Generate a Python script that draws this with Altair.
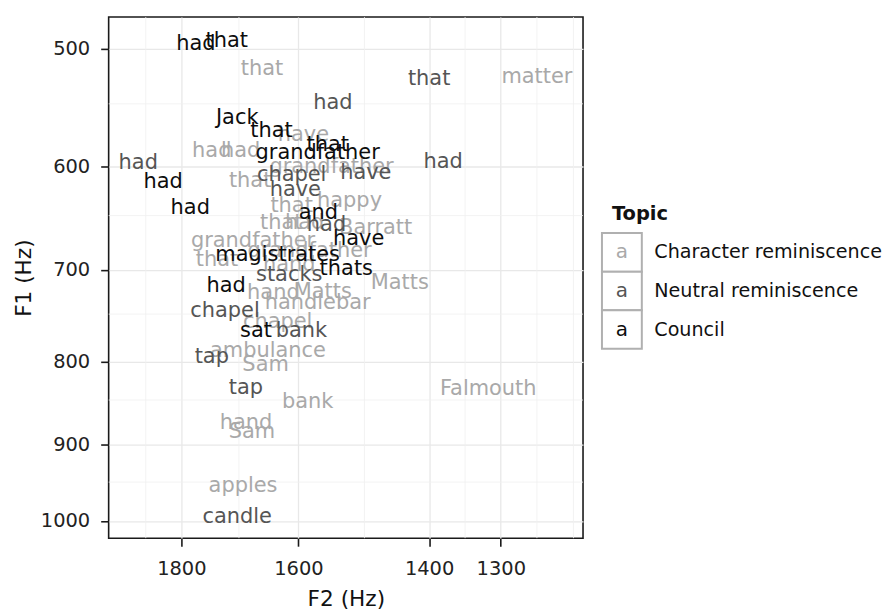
import altair as alt
import pandas as pd

# ---- data ----
categories = ["Character reminiscence", "Neutral reminiscence", "Council"]
colors = ["#a9a9a9", "#555555", "#0d0d0d"]

words = [
    # Character reminiscence
    "that", "have", "had", "had", "grandfather", "that", "happy", "that", "that", "had",
    "Barratt", "grandfather", "that", "grandfather", "hand", "Matts", "hand", "Matts",
    "handlebar", "chapel", "ambulance", "Sam", "bank", "Falmouth", "hand", "Sam", "apples",
    "matter",
    # Neutral reminiscence
    "had", "chapel", "have", "have", "had", "had", "stacks", "chapel", "bank", "tap", "tap",
    "candle", "that", "had",
    # Council
    "had", "that", "Jack", "that", "grandfather", "that", "had", "had", "and", "have",
    "magistrates", "thats", "had", "sat",
]
topic = (["Character reminiscence"] * 28 + ["Neutral reminiscence"] * 14 + ["Council"] * 14)
f2 = [
    1660, 1592, 1746, 1696, 1547, 1680, 1519, 1611, 1628, 1590,
    1479, 1675, 1737, 1582, 1615, 1443, 1641, 1561,
    1569, 1634, 1650, 1654, 1585, 1317, 1687, 1677, 1692,
    1252,
    1545, 1611, 1605, 1494, 1879, 1555, 1615, 1723, 1595, 1746, 1687,
    1702, 1400, 1380,
    1774, 1720, 1702, 1644, 1569, 1553, 1833, 1784, 1568, 1505,
    1634, 1524, 1721, 1670,
]
f1 = [
    516, 572, 586, 586, 600, 613, 632, 637, 653, 653,
    658, 671, 690, 681, 695, 714, 724, 723,
    735, 756, 788, 804, 847, 832, 873, 884, 953,
    523,
    544, 608, 622, 606, 597, 655, 705, 744, 765, 795, 831,
    995, 524, 596,
    496, 494, 557, 568, 588, 581, 614, 639, 644, 669,
    685, 699, 717, 765,
]

x_ticks = [1800, 1600, 1400, 1300]
y_ticks = [500, 600, 700, 800, 900, 1000]
x_minor = [1865, 1699, 1496, 1349, 1252, 1205]
y_minor = [545, 646, 747, 845, 948]
x_domain = [1193, 1935]
y_domain = [475.6, 1024]

legend_title = "Topic"
legend_glyph = "a"

df = pd.DataFrame({"F2": f2, "F1": f1, "word": words, "Topic": topic})
df_xminor = pd.DataFrame({"F2": x_minor})
df_yminor = pd.DataFrame({"F1": y_minor})

FONT = "DejaVu Sans"

xscale = alt.Scale(type="pow", exponent=0.12, domain=x_domain, reverse=True, nice=False, zero=False)
yscale = alt.Scale(type="pow", exponent=0.2, domain=y_domain, reverse=True, nice=False, zero=False)

axis_common = dict(
    grid=True, gridColor="#e8e8e8", gridWidth=1.3, domain=False,
    tickColor="#1a1a1a", tickWidth=1.6, tickSize=8,
    labelFont=FONT, labelFontSize=19.5, labelColor="#222222",
    titleFont=FONT, titleFontSize=21.7, titleFontWeight="normal", titleColor="#111111",
    format="d", labelOverlap=False, labelFlush=False,
)
xaxis = alt.Axis(values=x_ticks, title="F2 (Hz)", labelPadding=13, titlePadding=11, **axis_common)
yaxis = alt.Axis(values=y_ticks, title="F1 (Hz)", labelPadding=11, titlePadding=5, **axis_common)

x_enc = alt.X("F2:Q", scale=xscale, axis=xaxis)
y_enc = alt.Y("F1:Q", scale=yscale, axis=yaxis)

minor_x = alt.Chart(df_xminor).mark_rule(color="#f0f0f0", strokeWidth=0.8).encode(x=x_enc)
minor_y = alt.Chart(df_yminor).mark_rule(color="#f0f0f0", strokeWidth=0.8).encode(y=y_enc)

color_scale = alt.Scale(domain=categories, range=colors)

texts = alt.Chart(df).mark_text(font=FONT, fontSize=21, baseline="middle", align="center").encode(
    x=x_enc,
    y=y_enc,
    text="word:N",
    color=alt.Color("Topic:N", scale=color_scale, legend=None),
)

main = alt.layer(minor_x, minor_y, texts).properties(
    width=476, height=523,
    view=alt.ViewBackground(stroke="#1a1a1a", strokeWidth=1.6),
)

# ---- hand-built legend (boxes with a coloured "a") ----
leg_domain = [legend_title] + categories
leg_scale = alt.Scale(domain=leg_domain, range=[178, 333], paddingInner=0, paddingOuter=0)
leg_axis = alt.Axis(
    orient="right", title=None, domain=False, ticks=False, grid=False,
    labelPadding=12, labelFont=FONT, labelFontSize=19.2, labelColor="#111111",
    labelExpr="datum.value == 'Topic' ? '' : datum.value", labelLimit=400,
)
leg_df = pd.DataFrame({"Topic": categories, "glyph": [legend_glyph] * len(categories)})
leg_title_df = pd.DataFrame({"Topic": [legend_title]})

leg_y = alt.Y("Topic:N", scale=leg_scale, axis=leg_axis)
boxes = alt.Chart(leg_df).mark_rect(fill="white", stroke="#b0b0b0", strokeWidth=2).encode(y=leg_y)
letters = alt.Chart(leg_df).mark_text(font=FONT, fontSize=20, baseline="middle").encode(
    y=leg_y, text="glyph:N",
    color=alt.Color("Topic:N", scale=color_scale, legend=None),
)
leg_title = alt.Chart(leg_title_df).mark_text(
    font=FONT, fontSize=19.5, fontWeight="bold", align="left", dx=-10, baseline="middle", color="#111111"
).encode(y=leg_y, text="Topic:N")

legend = alt.layer(boxes, letters, leg_title).properties(
    width=40, height=523, view=alt.ViewBackground(strokeOpacity=0)
)

chart = alt.hconcat(main, legend, spacing=16).properties(
    padding={"left": 4, "top": 6, "right": 0, "bottom": 0}
).configure(background="white")

chart.save("out.html", embed_options={"renderer": "svg", "actions": False})
